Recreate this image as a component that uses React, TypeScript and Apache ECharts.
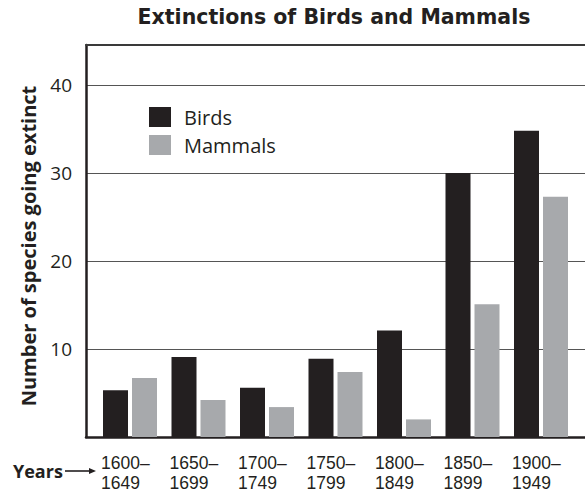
import React, { useEffect, useRef } from "react";
import * as echarts from "echarts";

const title = "Extinctions of Birds and Mammals";
const yAxisTitle = "Number of species going extinct";
const xAxisTitle = "Years";
const periodStarts = ["1600–", "1650–", "1700–", "1750–", "1800–", "1850–", "1900–"];
const periodEnds = ["1649", "1699", "1749", "1799", "1849", "1899", "1949"];
const seriesNames = ["Birds", "Mammals"];
const birds = [5.3, 9.1, 5.6, 8.9, 12.1, 30, 34.8];
const mammals = [6.7, 4.2, 3.4, 7.4, 2.0, 15.1, 27.3];
const yMin = 0;
const yMax = 44.55;
const yInterval = 10;

const FONT = "'Open Sans', 'Noto Sans', sans-serif";
const LABEL_FONT = "'Liberation Sans', Arial, sans-serif";
const TITLE_FONT = "'DejaVu Sans', sans-serif";
const INK = "#231f20";
const GRAY = "#a7a9ac";

const labelAxis = (data: string[], offset: number) => ({
  type: "category",
  gridIndex: 1,
  position: "bottom",
  offset,
  data,
  axisLine: { show: false },
  axisTick: { show: false },
  splitLine: { show: false },
  axisLabel: {
    interval: 0,
    margin: 16,
    align: "center",
    formatter: (v: string) => `{a|${v}}`,
    rich: {
      a: { width: 58, align: "left", fontSize: 17.5, lineHeight: 20, fontFamily: LABEL_FONT, color: INK },
    },
  },
});

export default function App() {
  const ref = useRef<HTMLDivElement>(null);
  useEffect(() => {
    if (!ref.current) return;
    const chart = echarts.init(ref.current, undefined, { renderer: "svg" });
    const option: any = {
      animation: false,
      backgroundColor: "#ffffff",
      textStyle: { fontFamily: FONT, color: INK },
      title: {
        text: title,
        left: 334,
        textAlign: "center",
        top: 6,
        padding: 0,
        textStyle: { fontFamily: TITLE_FONT, fontSize: 20.5, fontWeight: "bold", color: INK },
      },
      legend: {
        orient: "vertical",
        left: 149,
        top: 107,
        padding: 0,
        itemWidth: 22,
        itemHeight: 20,
        itemGap: 8,
        icon: "rect",
        data: seriesNames,
        textStyle: { fontFamily: FONT, fontSize: 20, color: INK, padding: [0, 0, 0, 8] },
      },
      grid: [
        { left: 86, width: 499, top: 45, bottom: 56, containLabel: false, outerBoundsMode: "none" },
        { left: 95.75, width: 479.5, top: 45, bottom: 56, containLabel: false, outerBoundsMode: "none" },
      ],
      xAxis: [
        {
          type: "value",
          gridIndex: 0,
          min: 0,
          max: 1,
          position: "bottom",
          axisLine: { show: true, onZero: false, lineStyle: { color: INK, width: 2.5 } },
          axisTick: { show: false },
          axisLabel: { show: false },
          splitLine: { show: false },
        },
        {
          type: "value",
          gridIndex: 0,
          min: 0,
          max: 1,
          position: "top",
          axisLine: { show: true, onZero: false, lineStyle: { color: "#3a3a3a", width: 2 } },
          axisTick: { show: false },
          axisLabel: { show: false },
          splitLine: { show: false },
        },
        labelAxis(periodStarts, 0),
        labelAxis(periodEnds, 20),
      ],
      yAxis: [
        {
          type: "value",
          gridIndex: 0,
          min: yMin,
          max: yMax,
          interval: yInterval,
          axisLine: { show: true, onZero: false, lineStyle: { color: INK, width: 2.5 } },
          axisTick: { show: false },
          axisLabel: {
            margin: 14,
            fontSize: 19,
            fontFamily: FONT,
            color: INK,
            showMinLabel: false,
            showMaxLabel: false,
            formatter: (v: number) => (v > 0 && v % 10 === 0 ? String(v) : ""),
          },
          splitLine: { show: true, lineStyle: { color: "#555555", width: 1.2 } },
        },
        {
          type: "value",
          gridIndex: 1,
          min: yMin,
          max: yMax,
          interval: yInterval,
          show: false,
          splitLine: { show: false },
        },
      ],
      series: [
        {
          name: seriesNames[0],
          type: "bar",
          xAxisIndex: 2,
          yAxisIndex: 1,
          data: birds,
          barWidth: 25,
          barGap: "16%",
          itemStyle: { color: INK },
          z: 3,
        },
        {
          name: seriesNames[1],
          type: "bar",
          xAxisIndex: 2,
          yAxisIndex: 1,
          data: mammals,
          barWidth: 25,
          barGap: "16%",
          itemStyle: { color: GRAY },
          z: 3,
        },
      ],
      graphic: [
        {
          type: "text",
          x: 28,
          y: 246,
          rotation: Math.PI / 2,
          style: {
            text: yAxisTitle,
            fontFamily: FONT,
            fontSize: 20,
            fontWeight: "bold",
            fill: INK,
            align: "center",
            verticalAlign: "middle",
          },
        },
        {
          type: "text",
          x: 13,
          y: 471,
          style: {
            text: xAxisTitle,
            fontFamily: FONT,
            fontSize: 18,
            fontWeight: "bold",
            fill: INK,
            align: "left",
            verticalAlign: "middle",
          },
        },
        {
          type: "line",
          shape: { x1: 65, y1: 471, x2: 92, y2: 471 },
          style: { stroke: INK, lineWidth: 1.6 },
        },
        {
          type: "polygon",
          shape: { points: [[96, 471], [89, 468], [89, 474]] },
          style: { fill: INK },
        },
      ],
    };
    chart.setOption(option);
    return () => chart.dispose();
  }, []);
  return (
    <div
      ref={ref}
      style={{ position: "fixed", left: 0, top: 0, width: 585, height: 493, background: "#ffffff" }}
    />
  );
}
